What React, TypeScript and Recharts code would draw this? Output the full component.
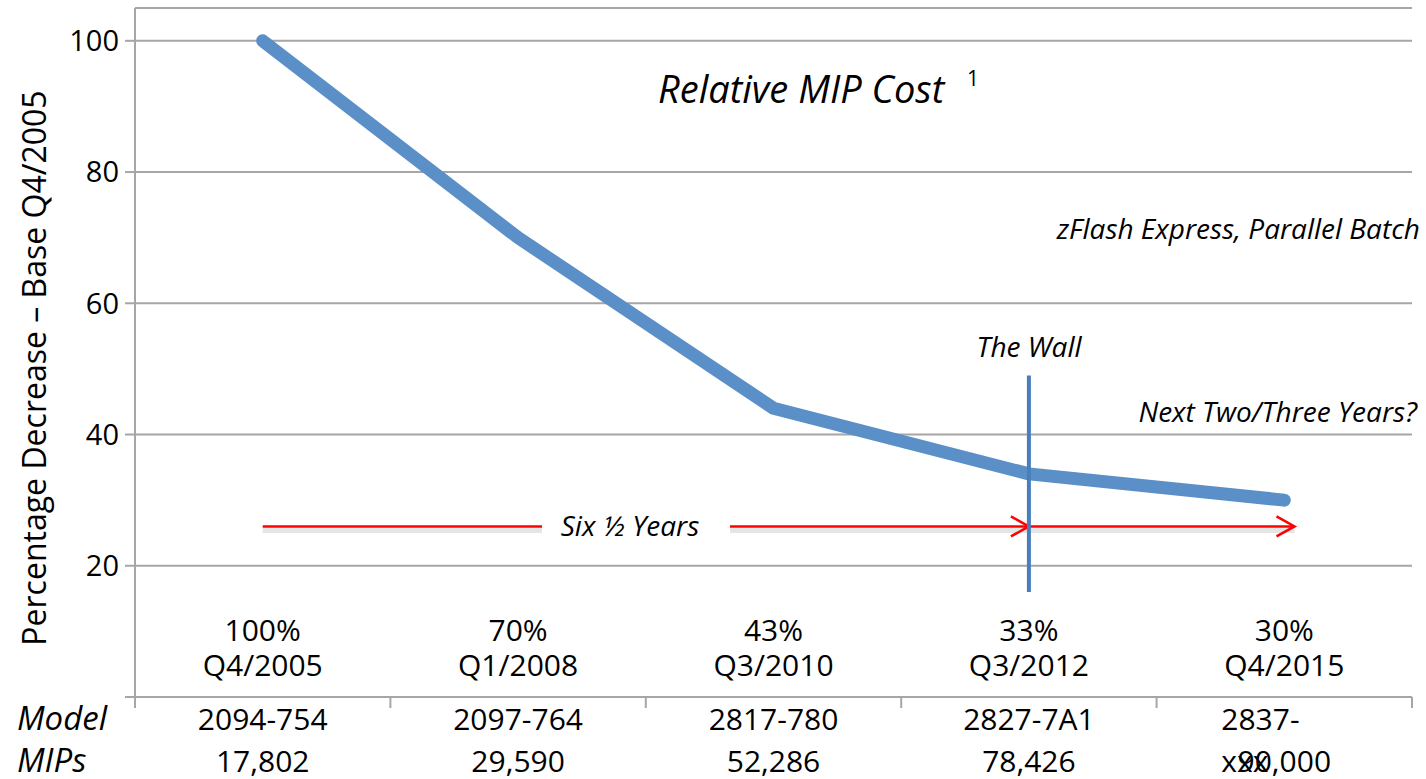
import { LineChart, Line, XAxis, YAxis, CartesianGrid, ReferenceLine } from "recharts";

const quarters = ["Q4/2005", "Q1/2008", "Q3/2010", "Q3/2012", "Q4/2015"];
const costPct = [100, 70, 44, 34, 30];
const pctLabels = ["100%", "70%", "43%", "33%", "30%"];
const models = ["2094-754", "2097-764", "2817-780", "2827-7A1", "2837-xxx"];
const mips = ["17,802", "29,590", "52,286", "78,426", "90,000"];
const yTicks = [0, 20, 40, 60, 80, 100];

const W = 1426;
const H = 779;
const FONT = "'Open Sans', sans-serif";
const GRID = "#a6a6a6";
const RED = "#ff0000";

const data = quarters.map((q, i) => ({ idx: i, quarter: q, cost: costPct[i] }));
// category centres plus the band edges (edges get the axis tick marks)
const xTicks = [...quarters.flatMap((_, i) => [i - 0.5, i]), quarters.length - 0.5];

const XTick = (props: any) => {
	const { x, y, payload } = props;
	const v = payload.value;
	if (!Number.isInteger(v)) {
		return <line x1={x} x2={x} y1={y} y2={y + 11} stroke={GRID} strokeWidth={2} />;
	}
	const m = models[v];
	const split = m.endsWith("xxx");
	return (
		<g fontFamily={FONT} fontSize={30} fill="#000">
			<text x={x} y={y - 56} textAnchor="middle">{pctLabels[v]}</text>
			<text x={x} y={y - 21} textAnchor="middle">{quarters[v]}</text>
			{split ? (
				<>
					<text x={x - 63} y={y + 33}>{m.slice(0, 5)}</text>
					<text x={x - 63} y={y + 75}>{m.slice(5)}</text>
				</>
			) : (
				<text x={x} y={y + 33} textAnchor="middle">{m}</text>
			)}
			<text x={x} y={y + 75} textAnchor="middle">{mips[v]}</text>
			{v === 0 && (
				<>
					<text x={17} y={y + 33} fontStyle="italic" fontSize={33}>Model</text>
					<text x={17} y={y + 75} fontStyle="italic" fontSize={33}>MIPs</text>
				</>
			)}
		</g>
	);
};

const Arrow = (p: any) => {
	const { x1, y1, x2, y2 } = p;
	return (
		<g>
			<line x1={x1} y1={y1 + 4} x2={x2} y2={y2 + 4} stroke="#000" strokeOpacity={0.1} strokeWidth={5} />
			<line x1={x1} y1={y1} x2={x2} y2={y2} stroke={RED} strokeWidth={2.5} />
			<polyline
				points={`${x2 - 18},${y2 - 10} ${x2},${y2} ${x2 - 18},${y2 + 10}`}
				fill="none"
				stroke={RED}
				strokeWidth={2.5}
			/>
		</g>
	);
};

const App = () => {
	return (
		<div style={{ position: "absolute", left: 0, top: 0, width: W, height: H, background: "#fff" }}>
			<LineChart width={W} height={H} data={data} margin={{ top: 8, right: 14, left: 0, bottom: 0 }}>
				<CartesianGrid vertical={false} stroke={GRID} strokeWidth={2} />
				<XAxis
					dataKey="idx"
					type="number"
					domain={[-0.5, 4.5]}
					ticks={xTicks}
					interval={0}
					height={82}
					tickLine={false}
					tickSize={0}
					tickMargin={0}
					axisLine={{ stroke: GRID, strokeWidth: 2 }}
					tick={<XTick />}
				/>
				<YAxis
					domain={[0, 105]}
					ticks={yTicks}
					width={135}
					tickSize={10}
					tickMargin={6}
					tickFormatter={(v: number) => (v === 0 ? "" : String(v))}
					axisLine={{ stroke: GRID, strokeWidth: 2 }}
					tickLine={{ stroke: GRID, strokeWidth: 2 }}
					tick={{ fill: "#000", fontSize: 29, fontFamily: FONT }}
				/>
				<Line
					dataKey="cost"
					type="linear"
					stroke="#5b8fc7"
					strokeWidth={13}
					strokeLinecap="round"
					strokeLinejoin="round"
					dot={false}
					isAnimationActive={false}
				/>
				<ReferenceLine segment={[{ x: 0, y: 26 }, { x: 3, y: 26 }]} shape={<Arrow />} />
				<ReferenceLine segment={[{ x: 3, y: 26 }, { x: 4.04, y: 26 }]} shape={<Arrow />} />
				<ReferenceLine segment={[{ x: 3, y: 16 }, { x: 3, y: 49 }]} stroke="#4a7ebb" strokeWidth={4} />
			</LineChart>
			<svg
				width={W}
				height={H}
				style={{ position: "absolute", left: 0, top: 0, pointerEvents: "none" }}
				fontFamily={FONT}
			>
				<text
					x={33}
					y={368}
					transform="rotate(-90 33 368)"
					textAnchor="middle"
					dominantBaseline="central"
					fontSize={32}
				>
					Percentage Decrease – Base Q4/2005
				</text>
				<text x={658} y={103} fontSize={38} fontStyle="italic">
					Relative MIP Cost
				</text>
				<text x={967} y={86} fontSize={21}>1</text>
				<text x={1420} y={239} fontSize={28} fontStyle="italic" textAnchor="end">
					zFlash Express, Parallel Batch
				</text>
				<text x={1029} y={357} fontSize={28} fontStyle="italic" textAnchor="middle">
					The Wall
				</text>
				<text x={1417} y={422} fontSize={28} fontStyle="italic" textAnchor="end">
					Next Two/Three Years?
				</text>
				<rect x={542} y={506} width={188} height={42} fill="#fff" />
				<text x={630} y={536} fontSize={28} fontStyle="italic" textAnchor="middle">
					Six ½ Years
				</text>
			</svg>
		</div>
	);
};

export default App;
